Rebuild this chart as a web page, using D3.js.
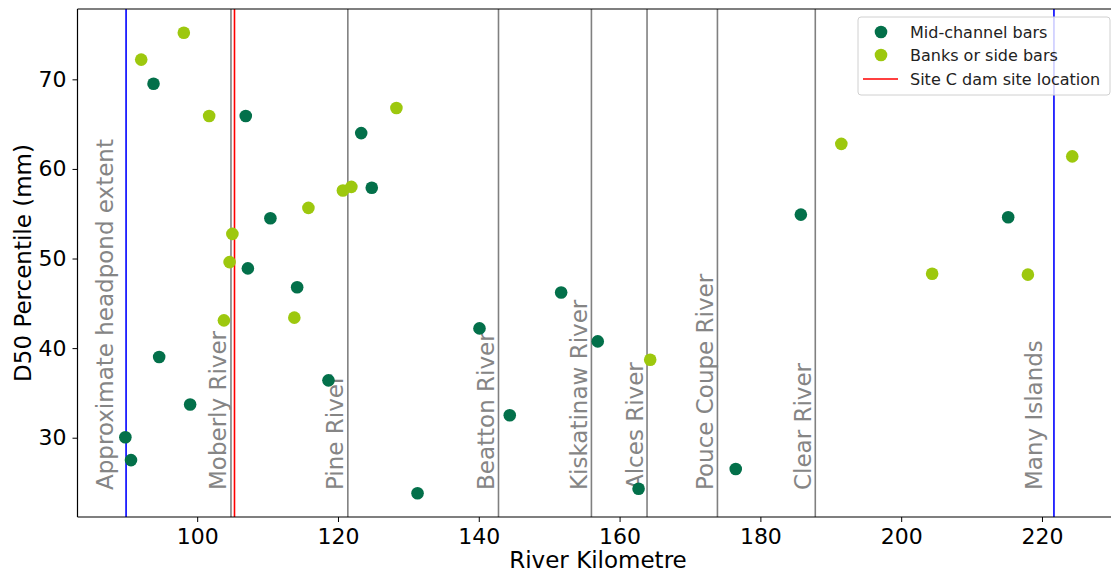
<!DOCTYPE html>
<html>
<head>
<meta charset="utf-8">
<script src="https://cdn.jsdelivr.net/npm/d3@7"></script>
<style>
  body { margin: 0; background: #fff; }
  svg { display: block; font-family: "DejaVu Sans", sans-serif; }
</style>
</head>
<body>
<div id="chart"></div>
<script>
// mid-channel bars: river km / D50 (mm)
const midKm = [89.8, 90.6, 93.8, 94.6, 99.0, 106.9, 110.4, 107.2, 114.2, 123.3, 124.8, 118.65,
               131.3, 140.1, 144.4, 151.7, 156.9, 162.7, 176.5, 185.75, 215.2];
const midD50 = [30.05, 27.5, 69.5, 39.0, 33.7, 65.9, 54.5, 48.9, 46.8, 64.0, 57.9, 36.4,
                23.8, 42.2, 32.5, 46.2, 40.75, 24.3, 26.5, 54.9, 54.6];

// banks or side bars
const bankKm = [92.05, 98.1, 101.7, 105.0, 104.6, 103.8, 115.8, 113.8, 120.7, 121.9, 128.3,
                164.35, 191.5, 204.4, 218.0, 224.3];
const bankD50 = [72.2, 75.2, 65.9, 52.75, 49.6, 43.1, 55.65, 43.4, 57.6, 58.0, 66.8,
                 38.7, 62.8, 48.3, 48.2, 61.4];

// reference lines
const tribNames = ["Moberly River", "Pine River", "Beatton River", "Kiskatinaw River",
                   "Alces River", "Pouce Coupe River", "Clear River"];
const tribKm = [104.8, 121.4, 142.8, 156.0, 163.9, 173.9, 187.8];
const extentNames = ["Approximate headpond extent", "Many Islands"];
const extentKm = [89.9, 221.7];
const extentLabelKm = [88.1, 220.0];
const damKm = 105.3;

const xTicks = [100, 120, 140, 160, 180, 200, 220];
const yTicks = [30, 40, 50, 60, 70];

const legendLabels = ["Mid-channel bars", "Banks or side bars", "Site C dam site location"];

const width = 1111, height = 574;
const plotLeft = 77.5, plotTop = 9, plotBottom = 517;

const midColor = "#03704a";
const bankColor = "#9dc80e";

const svg = d3.select("#chart").append("svg")
    .attr("width", width)
    .attr("height", height);

const x = d3.scaleLinear().domain([83, 231]).range([plotLeft, plotLeft + 148 * 7.04]);
const y = d3.scaleLinear().domain([21.15, 77.85]).range([plotBottom, plotTop]);

const plot = svg.append("g");

// tributary lines + labels
tribKm.forEach((km, i) => {
    plot.append("line")
        .attr("x1", x(km)).attr("x2", x(km))
        .attr("y1", plotTop).attr("y2", plotBottom)
        .attr("stroke", "#808080").attr("stroke-width", 1.6);
    const tx = x(km) - 4.5;
    plot.append("text")
        .attr("transform", `translate(${tx},490) rotate(-90)`)
        .attr("fill", "#858585")
        .attr("font-size", 23)
        .text(tribNames[i]);
});

// headpond / many islands
extentKm.forEach((km, i) => {
    plot.append("line")
        .attr("x1", x(km)).attr("x2", x(km))
        .attr("y1", plotTop).attr("y2", plotBottom)
        .attr("stroke", "blue").attr("stroke-width", 1.6);
    plot.append("text")
        .attr("transform", `translate(${x(extentLabelKm[i])},490) rotate(-90)`)
        .attr("fill", "#858585")
        .attr("font-size", 23)
        .text(extentNames[i]);
});

// dam site
plot.append("line")
    .attr("x1", x(damKm)).attr("x2", x(damKm))
    .attr("y1", plotTop).attr("y2", plotBottom)
    .attr("stroke", "red").attr("stroke-width", 1.6);

// points
plot.selectAll(".mid")
    .data(midKm.map((k, i) => [k, midD50[i]]))
    .enter().append("circle")
    .attr("class", "mid")
    .attr("cx", d => x(d[0]))
    .attr("cy", d => y(d[1]))
    .attr("r", 6.3)
    .attr("fill", midColor);

plot.selectAll(".bank")
    .data(bankKm.map((k, i) => [k, bankD50[i]]))
    .enter().append("circle")
    .attr("class", "bank")
    .attr("cx", d => x(d[0]))
    .attr("cy", d => y(d[1]))
    .attr("r", 6.3)
    .attr("fill", bankColor);

// axes
const xAxis = svg.append("g")
    .attr("transform", `translate(0,${plotBottom})`)
    .call(d3.axisBottom(x).tickValues(xTicks).tickSize(5).tickPadding(6));
const yAxis = svg.append("g")
    .attr("transform", `translate(${plotLeft},0)`)
    .call(d3.axisLeft(y).tickValues(yTicks).tickSize(5).tickPadding(6));

[xAxis, yAxis].forEach(g => {
    g.select(".domain").remove();
    g.selectAll("line").attr("stroke", "#000").attr("stroke-width", 1);
    g.selectAll("text").attr("font-size", 22).attr("fill", "#000")
        .attr("font-family", "DejaVu Sans");
});

// spines: left, top, bottom (right edge is cut off in the figure)
const spines = [
    [plotLeft, plotTop, plotLeft, plotBottom],
    [plotLeft, plotTop, width, plotTop],
    [plotLeft, plotBottom, width, plotBottom]
];
svg.selectAll(".spine")
    .data(spines)
    .enter().append("line")
    .attr("class", "spine")
    .attr("x1", d => d[0]).attr("y1", d => d[1])
    .attr("x2", d => d[2]).attr("y2", d => d[3])
    .attr("stroke", "#000").attr("stroke-width", 1.2);

// axis titles
svg.append("text")
    .attr("x", 598).attr("y", 568)
    .attr("text-anchor", "middle")
    .attr("font-size", 23)
    .text("River Kilometre");

svg.append("text")
    .attr("transform", `translate(31,${(plotTop + plotBottom) / 2}) rotate(-90)`)
    .attr("text-anchor", "middle")
    .attr("font-size", 23)
    .text("D50 Percentile (mm)");

// legend
const leg = svg.append("g").attr("transform", "translate(858,17)");
leg.append("rect")
    .attr("width", 252).attr("height", 78)
    .attr("rx", 3)
    .attr("fill", "#fff").attr("fill-opacity", 0.8)
    .attr("stroke", "#d0d0d0");

const legRows = [15, 38, 62];
leg.append("circle").attr("cx", 23).attr("cy", legRows[0]).attr("r", 6.3).attr("fill", midColor);
leg.append("circle").attr("cx", 23).attr("cy", legRows[1]).attr("r", 6.3).attr("fill", bankColor);
leg.append("line")
    .attr("x1", 5).attr("x2", 40)
    .attr("y1", legRows[2]).attr("y2", legRows[2])
    .attr("stroke", "red").attr("stroke-width", 1.6);

leg.selectAll(".lt")
    .data(legendLabels)
    .enter().append("text")
    .attr("class", "lt")
    .attr("x", 52)
    .attr("y", (d, i) => legRows[i])
    .attr("dy", "0.35em")
    .attr("font-size", 16)
    .attr("fill", "#222")
    .text(d => d);
</script>
</body>
</html>
